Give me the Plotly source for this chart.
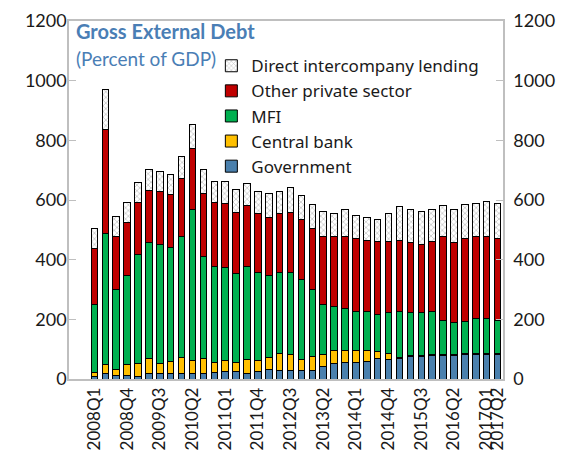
import plotly.graph_objects as go

quarters = [f"{y}Q{q}" for y in range(2008, 2018) for q in range(1, 5)][:38]

government = [8,19,11,11,10,20,20,20,20,20,20,23,24,24,17,24,32,27,27,27,27,43,52,56,56,60,69,67,68,76,76,80,80,80,83,83,82,83]
central_bank = [15,30,21,36,41,48,32,38,53,43,48,34,39,33,50,37,39,59,56,39,50,40,43,39,39,35,22,19,4,2,2,3,3,3,3,3,3,3]
mfi = [227,440,268,301,367,388,400,383,403,506,344,321,311,296,309,296,277,271,274,268,223,167,147,141,130,130,125,136,153,144,144,142,114,105,108,117,119,111]
other_private = [186,346,176,176,174,175,175,177,195,202,209,214,214,204,206,197,195,199,200,200,203,229,234,243,245,240,246,240,240,234,230,237,279,268,276,273,273,273]
direct_lending = [70,134,69,66,66,70,70,68,75,82,80,71,75,78,72,76,78,74,84,81,82,84,80,90,78,78,72,92,114,113,108,107,104,113,114,111,117,117]

tick_labels = ["2008Q1","2008Q4","2009Q3","2010Q2","2011Q1","2011Q4","2012Q3",
               "2013Q2","2014Q1","2014Q4","2015Q3","2016Q2","2017Q1","2017Q2"]
y_ticks = [0, 200, 400, 600, 800, 1000, 1200]

FONT = "Lato"
fig = go.Figure()
series = [
    ("Government", government, "#4a80ad", None),
    ("Central bank", central_bank, "#ffc000", None),
    ("MFI", mfi, "#00b050", None),
    ("Other private sector", other_private, "#c00000", None),
    ("Direct intercompany lending", direct_lending, "white", "x"),
]
for name, vals, color, pat in series:
    marker = dict(color=color, line=dict(color="black", width=1))
    if pat:
        marker["pattern"] = dict(shape=pat, fgcolor="#8c8c8c", bgcolor="white", size=4, solidity=0.35)
    fig.add_trace(go.Bar(x=quarters, y=vals, name=name, marker=marker))

# invisible trace to anchor the right axis
fig.add_trace(go.Scatter(x=[quarters[0]], y=[0], yaxis="y2", mode="markers",
                         marker=dict(opacity=0), showlegend=False, hoverinfo="skip"))

axis_line = "#bfbfbf"
fig.update_layout(
    width=551, height=444,
    margin=dict(l=61, r=56, t=13, b=73, autoexpand=False),
    barmode="stack", bargap=0.4,
    plot_bgcolor="white", paper_bgcolor="white",
    font=dict(family=FONT, size=18, color="#1a1a1a"),
    showlegend=True,
    legend=dict(traceorder="reversed", x=0.328, y=0.924, xanchor="left", yanchor="top",
                bgcolor="rgba(255,255,255,0)", font=dict(size=17, family="Noto Sans"),
                tracegroupgap=0, itemwidth=30),
    xaxis=dict(type="category", tickmode="array", tickvals=tick_labels, ticktext=tick_labels,
               tickangle=-90, showline=True, linecolor=axis_line, linewidth=1.5,
               mirror=True, ticks="", showgrid=False, tickfont=dict(size=17), automargin=False),
    yaxis=dict(range=[0, 1200], tickvals=y_ticks, showline=True, linecolor=axis_line,
               linewidth=1.5, ticks="inside", ticklen=7, tickcolor=axis_line,
               showgrid=False, zeroline=False, tickfont=dict(size=18), automargin=False,
               ticklabelstandoff=-3),
    yaxis2=dict(range=[0, 1200], tickvals=y_ticks, overlaying="y", side="right",
                showline=True, linecolor=axis_line, linewidth=1.5, ticks="inside",
                ticklen=7, tickcolor=axis_line, showgrid=False, zeroline=False,
                tickfont=dict(size=18), automargin=False, ticklabelstandoff=5),
    annotations=[
        dict(text="<b>Gross External Debt</b>", xref="paper", yref="paper", x=0.012, y=0.971,
             xanchor="left", yanchor="middle", showarrow=False,
             font=dict(family=FONT, size=20, color="#4a7eb5")),
        dict(text="(Percent of GDP)", xref="paper", yref="paper", x=0.012, y=0.895,
             xanchor="left", yanchor="middle", showarrow=False,
             font=dict(family=FONT, size=19, color="#4a7eb5")),
    ],
)

fig.write_html("out.html")
